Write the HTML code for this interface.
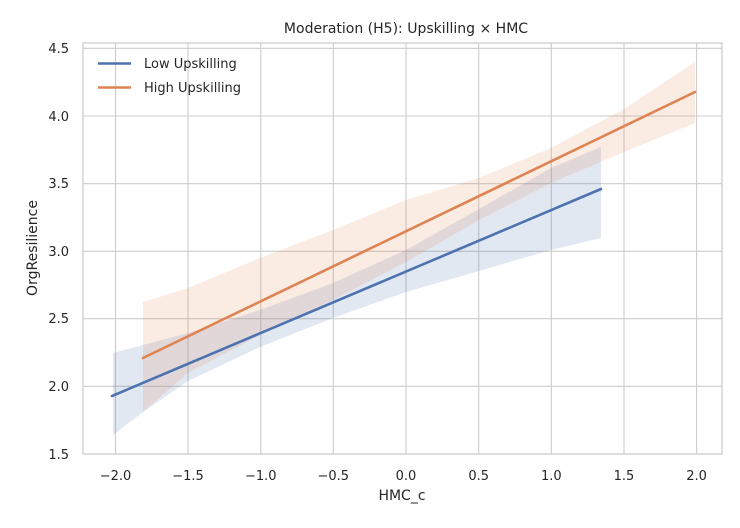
<!DOCTYPE html>
<html><head><meta charset="utf-8"><style>
body{margin:0;background:#fff;}
svg{display:block;font-family:"DejaVu Sans","Liberation Sans",sans-serif;}
</style></head><body>
<svg width="740" height="528" viewBox="0 0 740 528" xmlns="http://www.w3.org/2000/svg">
<rect width="740" height="528" fill="#fff"/>
<g stroke="#cccccc" stroke-width="1.1">
<line x1="115.5" y1="43" x2="115.5" y2="454"/>
<line x1="188" y1="43" x2="188" y2="454"/>
<line x1="260.8" y1="43" x2="260.8" y2="454"/>
<line x1="333.3" y1="43" x2="333.3" y2="454"/>
<line x1="406" y1="43" x2="406" y2="454"/>
<line x1="478.7" y1="43" x2="478.7" y2="454"/>
<line x1="551.3" y1="43" x2="551.3" y2="454"/>
<line x1="624" y1="43" x2="624" y2="454"/>
<line x1="696.6" y1="43" x2="696.6" y2="454"/>
<line x1="83" y1="48.3" x2="722" y2="48.3"/>
<line x1="83" y1="116" x2="722" y2="116"/>
<line x1="83" y1="183.7" x2="722" y2="183.7"/>
<line x1="83" y1="251.3" x2="722" y2="251.3"/>
<line x1="83" y1="318.7" x2="722" y2="318.7"/>
<line x1="83" y1="386.3" x2="722" y2="386.3"/>
</g>
<polygon fill="#4c72b0" fill-opacity="0.16" points="113,353 188,333 260,310 333,283 406,250 479,209 551,168 601,147 601,238 551,250 479,271 406,292 333,318 260,347 188,381 143,412 113,435"/>
<polygon fill="#dd8452" fill-opacity="0.16" points="143,302 188,288 260,258 333,230 406,200 479,178 551,148 624,109 695,62 695,123 624,152 551,183 479,220 406,262 333,300 260,335 188,373 143,412"/>
<line x1="112" y1="396" x2="601" y2="189" stroke="#4c72b0" stroke-width="2.6" stroke-linecap="round"/>
<line x1="143" y1="358" x2="695" y2="92" stroke="#dd8452" stroke-width="2.6" stroke-linecap="round"/>
<rect x="83" y="43" width="639" height="411" fill="none" stroke="#cccccc" stroke-width="1.3"/>
<g font-size="13" fill="#262626">
<text x="406" y="33" text-anchor="middle" font-size="14">Moderation (H5): Upskilling × HMC</text>
<g text-anchor="end">
<text x="69" y="53">4.5</text><text x="69" y="121">4.0</text><text x="69" y="188">3.5</text>
<text x="69" y="256">3.0</text><text x="69" y="323">2.5</text><text x="69" y="391">2.0</text><text x="69" y="459">1.5</text>
</g>
<g text-anchor="middle">
<text x="115.5" y="480">−2.0</text><text x="188" y="480">−1.5</text><text x="260.8" y="480">−1.0</text>
<text x="333.3" y="480">−0.5</text><text x="406" y="480">0.0</text><text x="478.7" y="480">0.5</text>
<text x="551.3" y="480">1.0</text><text x="624" y="480">1.5</text><text x="696.6" y="480">2.0</text>
</g>
<text x="402" y="500" text-anchor="middle" font-size="14">HMC_c</text>
<text transform="translate(37,248) rotate(-90)" text-anchor="middle" font-size="14">OrgResilience</text>
<line x1="98" y1="63.5" x2="131" y2="63.5" stroke="#4c72b0" stroke-width="2.6"/>
<line x1="98" y1="87.5" x2="131" y2="87.5" stroke="#dd8452" stroke-width="2.6"/>
<text x="144" y="68">Low Upskilling</text>
<text x="144" y="92">High Upskilling</text>
</g>
</svg>
</body></html>
